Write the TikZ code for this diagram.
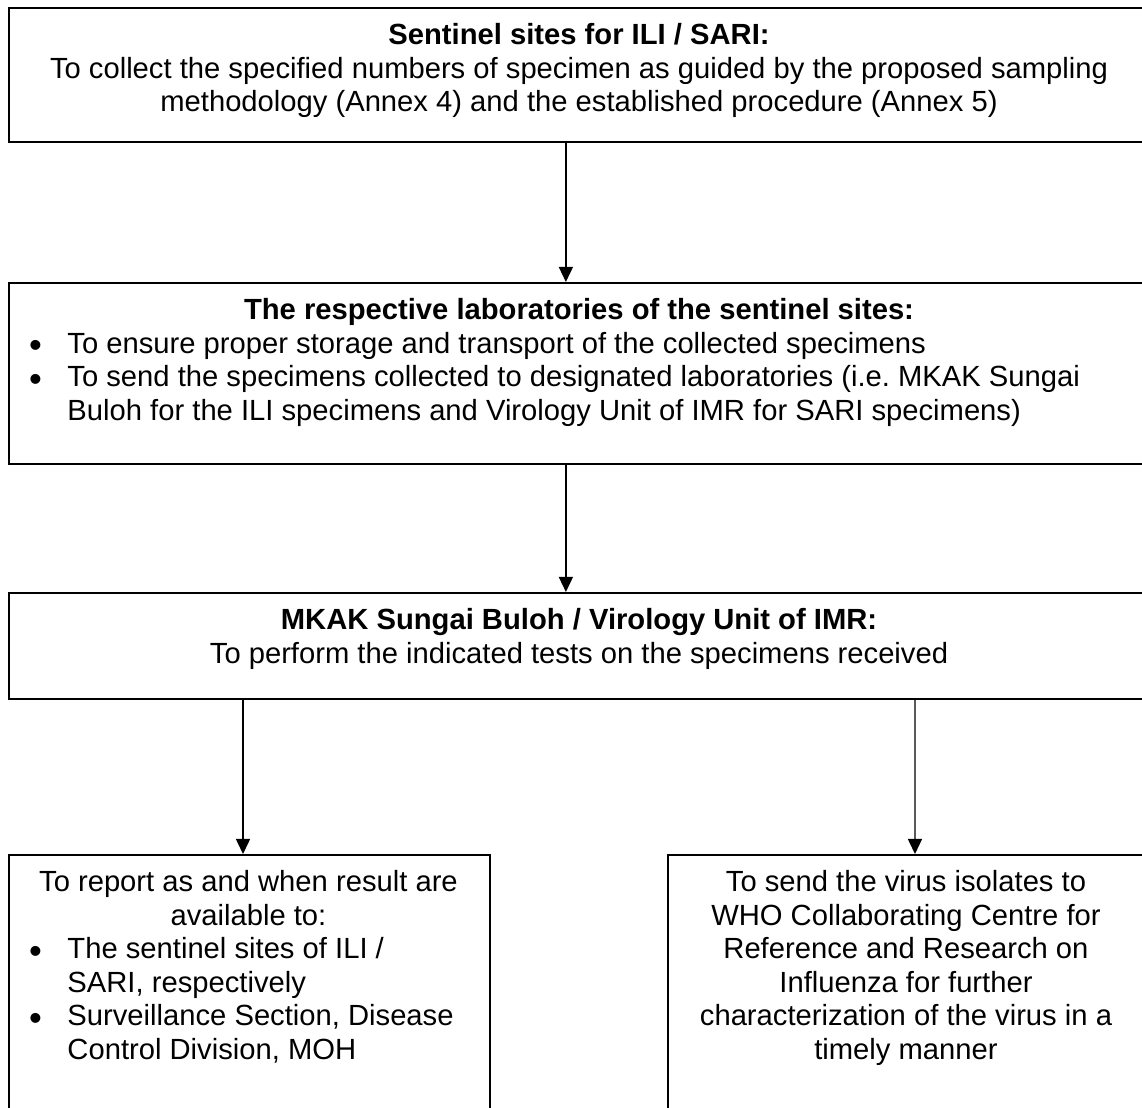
\documentclass[tikz,border=0pt]{standalone}
\usepackage{fontspec}
\setmainfont{Liberation Sans}
\usepackage{tikz}
\usetikzlibrary{arrows.meta}

\tikzset{
  box/.style={draw, line width=0.75pt, anchor=north west, inner sep=0pt},
  txt/.style={inner sep=0pt, align=center, anchor=north, font=\fontsize{12}{13.8}\selectfont},
  blist/.style={inner sep=0pt, align=left, anchor=north west, font=\fontsize{12}{13.8}\selectfont},
  arr/.style={line width=0.55pt, -{Triangle[length=6.2pt,width=5.8pt]}}
}
\newcommand{\bull}{\llap{\raisebox{-0.16em}{\scalebox{1.25}{\textbullet}}\hspace{10.5pt}}}

\begin{document}
\begin{tikzpicture}
    \useasboundingbox (0,0) rectangle (16.5,16.008);
    \node[box,minimum width=16.5cm,minimum height=1.936cm] (sites) at (0.116,15.907) {};
    \node[txt] (sitestxt) at (8.366,15.712) {\strut\textbf{Sentinel sites for ILI / SARI:}\\
        To collect the specified numbers of specimen as guided by the proposed sampling\\
        methodology (Annex 4) and the established procedure (Annex 5)};
    \node[box,minimum width=16.5cm,minimum height=2.615cm] (labs) at (0.116,11.934) {};
    \node[txt] (labstitle) at (8.366,11.739) {\strut\textbf{The respective laboratories of the sentinel sites:}};
    \node[blist] (labslist) at (0.968,11.254) {\strut\bull To ensure proper storage and transport of the collected specimens\\
        \bull To send the specimens collected to designated laboratories (i.e.\ MKAK Sungai\\
        Buloh for the ILI specimens and Virology Unit of IMR for SARI specimens)};
    \node[box,minimum width=16.5cm,minimum height=1.532cm] (tests) at (0.116,7.455) {};
    \node[txt] (teststxt) at (8.366,7.260) {\strut\textbf{MKAK Sungai Buloh / Virology Unit of IMR:}\\
        To perform the indicated tests on the specimens received};
    \node[box,minimum width=6.950cm,minimum height=3.843cm] (report) at (0.116,3.669) {};
    \node[txt] (reporttxt) at (3.590,3.474) {\strut To report as and when result are\\ available to:};
    \node[blist] (reportlist) at (0.968,2.503) {\strut\bull The sentinel sites of ILI /\\ SARI, respectively\\
        \bull Surveillance Section, Disease\\ Control Division, MOH};
    \node[box,minimum width=6.906cm,minimum height=3.843cm] (isolates) at (9.637,3.669) {};
    \node[txt] (isolatestxt) at (13.090,3.474) {\strut To send the virus isolates to\\ WHO Collaborating Centre for\\
        Reference and Research on\\ Influenza for further\\ characterization of the virus in a\\ timely manner};
    \draw[arr] ([xshift=-0.203cm]sites.south) -- ([xshift=-0.203cm]labs.north);
    \draw[arr] ([xshift=-0.203cm]labs.south) -- ([xshift=-0.203cm]tests.north);
    \draw[arr] ([xshift=3.395cm]tests.south west) -- ([xshift=3.395cm]report.north west);
    \draw[arr] ([xshift=13.104cm]tests.south west) -- ([xshift=3.583cm]isolates.north west);
\end{tikzpicture}
\end{document}
